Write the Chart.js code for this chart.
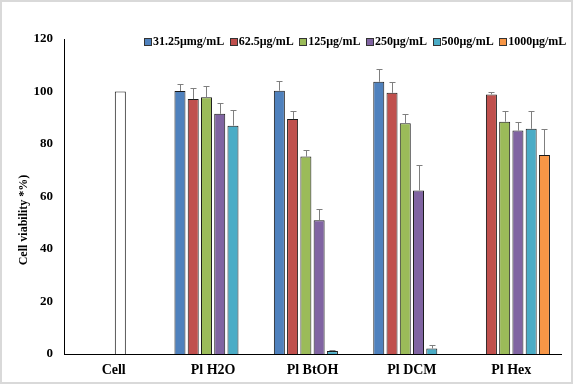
<!DOCTYPE html>
<html>
<head>
<meta charset="utf-8">
<script src="https://cdn.jsdelivr.net/npm/chart.js@4"></script>
<style>
  html, body { margin: 0; padding: 0; background: #fff; }
  #wrap { position: relative; width: 573px; height: 384px; }
  #legend {
    position: absolute; top: 34px; left: 144px;
    display: flex; gap: 5.5px; white-space: nowrap;
    font: bold 12px "Liberation Serif", "Times New Roman", serif; color: #000;
  }
  #legend span.item { display: flex; align-items: center; }
  #legend span.box { display: inline-block; width: 6px; height: 6px; border: 1px solid #333; margin-right: 1px; }
</style>
</head>
<body>
<div id="wrap">
  <canvas id="viabilityChart" width="573" height="384"></canvas>
  <div id="legend"></div>
</div>
<script>
// ---- Data ----
const categories = ['Cell', 'Pl H2O', 'Pl BtOH', 'Pl DCM', 'Pl Hex'];
const seriesLabels = ['31.25μmg/mL', '62.5μg/mL', '125μg/mL', '250μg/mL', '500μg/mL', '1000μg/mL'];
const seriesColors = ['#4f81bd', '#c0504d', '#9bbb59', '#8064a2', '#4bacc6', '#f79646'];

const conc31 = [null, 100.2, 100.3, 103.7, null];
const conc62 = [null, 97.1, 89.5, 99.5, 98.9];
const conc125 = [null, 97.8, 75.2, 87.9, 88.5];
const conc250 = [100, 91.5, 51.0, 62.3, 85.1];   // Cell control sits in this slot
const conc500 = [null, 87.0, 1.1, 2.1, 85.8];
const conc1000 = [null, null, null, null, 75.8];

const err31 = [0, 2.5, 3.8, 5.0, 0];
const err62 = [0, 4.3, 3.1, 4.2, 1.0];
const err125 = [0, 4.4, 2.5, 3.4, 4.2];
const err250 = [0, 4.2, 4.1, 9.7, 3.4];
const err500 = [0, 6.0, 0.4, 1.2, 6.8];
const err1000 = [0, 0, 0, 0, 9.8];

const yTicks = [0, 20, 40, 60, 80, 100, 120];

const values = [conc31, conc62, conc125, conc250, conc500, conc1000];
const errors = [err31, err62, err125, err250, err500, err1000];

const serif = '"Liberation Serif", "Times New Roman", serif';

// ---- HTML legend ----
const legendEl = document.getElementById('legend');
seriesLabels.forEach((lab, i) => {
  const it = document.createElement('span');
  it.className = 'item';
  it.innerHTML = '<span class="box" style="background:' + seriesColors[i] + '"></span>' + lab;
  legendEl.appendChild(it);
});

// ---- Error bars (upper only) ----
const errorBars = {
  id: 'errorBars',
  afterDatasetsDraw(chart) {
    const ctx = chart.ctx;
    const y = chart.scales.y;
    ctx.save();
    ctx.strokeStyle = '#7f7f7f';
    ctx.lineWidth = 1;
    chart.data.datasets.forEach((ds, i) => {
      const meta = chart.getDatasetMeta(i);
      meta.data.forEach((bar, j) => {
        const v = ds.data[j], e = errors[i][j];
        if (v == null || !e) return;
        const x = Math.round(bar.x) + 0.5;
        const top = Math.round(y.getPixelForValue(v + e)) + 0.5;
        ctx.beginPath();
        ctx.moveTo(x, bar.y);
        ctx.lineTo(x, top);
        ctx.moveTo(x - 3, top);
        ctx.lineTo(x + 3, top);
        ctx.stroke();
      });
    });
    ctx.restore();
  }
};

// ---- Frame + y title ----
const frame = {
  id: 'frame',
  beforeDraw(chart) {
    const ctx = chart.ctx;
    ctx.save();
    ctx.fillStyle = '#fff';
    ctx.fillRect(0, 0, chart.width, chart.height);
    ctx.strokeStyle = '#d9d9d9';
    ctx.lineWidth = 2;
    ctx.strokeRect(1, 1, chart.width - 2, chart.height - 2);
    ctx.restore();
  },
  afterDraw(chart) {
    const ctx = chart.ctx;
    ctx.save();
    ctx.translate(24, 220);
    ctx.rotate(-Math.PI / 2);
    ctx.font = 'bold 12px ' + serif;
    ctx.fillStyle = '#000';
    ctx.textAlign = 'center';
    ctx.textBaseline = 'middle';
    ctx.fillText('Cell viability *%)', 0, 0);
    ctx.restore();
  }
};

new Chart(document.getElementById('viabilityChart'), {
  type: 'bar',
  data: {
    labels: categories,
    datasets: seriesLabels.map((lab, i) => ({
      label: lab,
      data: values[i],
      backgroundColor: i === 3 ? values[i].map((v, j) => j === 0 ? '#ffffff' : seriesColors[i]) : seriesColors[i],
      borderColor: '#1a1a1a',
      borderWidth: 1,
      categoryPercentage: 0.8,
      barPercentage: 0.83
    }))
  },
  options: {
    responsive: false,
    animation: false,
    layout: { padding: { top: 39, right: 12, bottom: 0, left: 0 } },
    plugins: { legend: { display: false }, tooltip: { enabled: false } },
    scales: {
      x: {
        grid: { display: false, drawTicks: false },
        border: { color: '#000', width: 1 },
        ticks: { color: '#000', font: { family: serif, size: 14, weight: 'bold' }, padding: 8 },
        afterFit: s => { s.height = 30; }
      },
      y: {
        min: 0, max: 120,
        afterBuildTicks: s => { s.ticks = yTicks.map(v => ({ value: v })); },
        grid: { display: false, drawTicks: false },
        border: { color: '#000', width: 1 },
        ticks: { color: '#000', font: { family: serif, size: 13, weight: 'bold' }, padding: 11 },
        afterFit: s => { s.width = 64; }
      }
    }
  },
  plugins: [frame, errorBars]
});
</script>
</body>
</html>
